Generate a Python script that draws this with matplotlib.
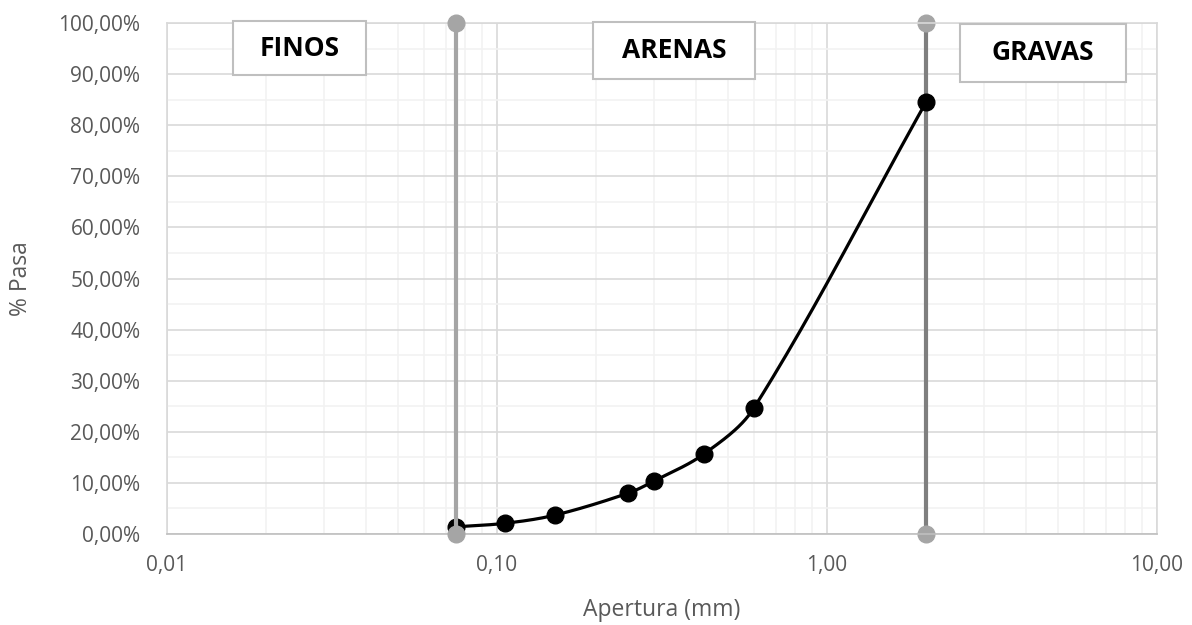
import numpy as np
import matplotlib.pyplot as plt
from matplotlib.patches import Rectangle
from matplotlib.transforms import IdentityTransform
from matplotlib.ticker import LogLocator, MultipleLocator, FuncFormatter, NullFormatter

# granulometria: abertura del tamiz (mm) y porcentaje que pasa
apertura = [0.075, 0.106, 0.15, 0.25, 0.30, 0.425, 0.60, 2.00]
pasa = [1.4, 2.1, 3.7, 8.0, 10.4, 15.7, 24.6, 84.6]

# limites entre finos / arenas / gravas
limites = [0.075, 2.00]
zonas = ["FINOS", "ARENAS", "GRAVAS"]
zona_x = [0.0253, 0.344, 4.51]
zona_y = [95.1, 94.6, 94.2]
# tamano de los recuadros en pixeles
caja_ancho = [133, 162, 166]
caja_alto = [54, 57, 58]

plt.rcParams['font.family'] = ['Open Sans', 'DejaVu Sans']
gris = '#595959'

fig = plt.figure(figsize=(11.92, 6.25), dpi=100)
ax = fig.add_axes([0.140, 0.1456, 0.8306, 0.8176])
ax.set_xscale('log')
ax.set_xlim(0.01, 10)
ax.set_ylim(0, 100)

ax.xaxis.set_major_locator(LogLocator(base=10))
ax.xaxis.set_minor_locator(LogLocator(base=10, subs=np.arange(2, 10)))
ax.xaxis.set_minor_formatter(NullFormatter())
ax.xaxis.set_major_formatter(FuncFormatter(lambda v, p: f"{v:.2f}".replace('.', ',')))
ax.yaxis.set_major_locator(MultipleLocator(10))
ax.yaxis.set_minor_locator(MultipleLocator(5))
ax.yaxis.set_major_formatter(FuncFormatter(lambda v, p: f"{v:.2f}%".replace('.', ',')))

ax.grid(which='major', color='#D9D9D9', lw=1.2)
ax.grid(which='minor', color='#F2F2F2', lw=1.2)
ax.set_axisbelow(True)
for s in ax.spines.values():
    s.set_color('#D9D9D9')
    s.set_linewidth(1.2)
ax.spines['bottom'].set_color('#BFBFBF')
ax.tick_params(which='both', length=0)
ax.tick_params(axis='x', pad=15, labelsize=15, labelcolor=gris)
ax.tick_params(axis='y', pad=19, labelsize=15, labelcolor=gris)
ax.set_xlabel("Apertura (mm)", fontsize=16.5, color=gris, va='center')
ax.set_ylabel("% Pasa", fontsize=16.5, color=gris, va='center')
ax.xaxis.set_label_coords(0.5, -0.149)
ax.yaxis.set_label_coords(-0.1475, 0.5)


def suavizar(xs, ys, n=40):
    # curva suavizada (Bezier) en coordenadas de pantalla
    pts = ax.transData.transform(np.column_stack([xs, ys]))
    p = np.vstack([pts[0], pts, pts[-1]])
    tang = p[2:] - p[:-2]
    tang = tang / np.linalg.norm(tang, axis=1)[:, None]
    t = np.linspace(0, 1, n)[:, None]
    tramos = []
    for i in range(len(pts) - 1):
        p0, p3 = pts[i], pts[i + 1]
        L = np.linalg.norm(p3 - p0) / 3
        c1 = p0 + tang[i] * L
        c2 = p3 - tang[i + 1] * L
        tramos.append((1 - t) ** 3 * p0 + 3 * (1 - t) ** 2 * t * c1
                      + 3 * (1 - t) * t ** 2 * c2 + t ** 3 * p3)
    out = ax.transData.inverted().transform(np.vstack(tramos))
    return out[:, 0], out[:, 1]


# limite arenas/gravas
ax.plot([limites[1]] * 2, [0, 100], color='#7F7F7F', lw=3, zorder=2)
ax.plot([limites[1]] * 2, [0, 100], 'o', color='#A5A5A5', ms=12, zorder=2, clip_on=False)

cx, cy = suavizar(apertura, pasa)
ax.plot(cx, cy, color='black', lw=2.3, zorder=3)
ax.plot(apertura, pasa, 'o', color='black', ms=12, zorder=3)

# limite finos/arenas
ax.plot([limites[0]] * 2, [0, 100], color='#A5A5A5', lw=3, zorder=4)
ax.plot([limites[0]] * 2, [0, 100], 'o', color='#A5A5A5', ms=12, zorder=4, clip_on=False)

for nombre, x, y, w, h in zip(zonas, zona_x, zona_y, caja_ancho, caja_alto):
    px, py = ax.transData.transform((x, y))
    ax.add_patch(Rectangle((px - w / 2, py - h / 2), w, h, transform=IdentityTransform(),
                           fc='white', ec='#BFBFBF', lw=1.5, zorder=5, clip_on=False))
    ax.text(x, y, nombre, ha='center', va='center', fontsize=19, fontweight='bold',
            color='black', zorder=6)

fig.savefig('out.png', dpi=100)
